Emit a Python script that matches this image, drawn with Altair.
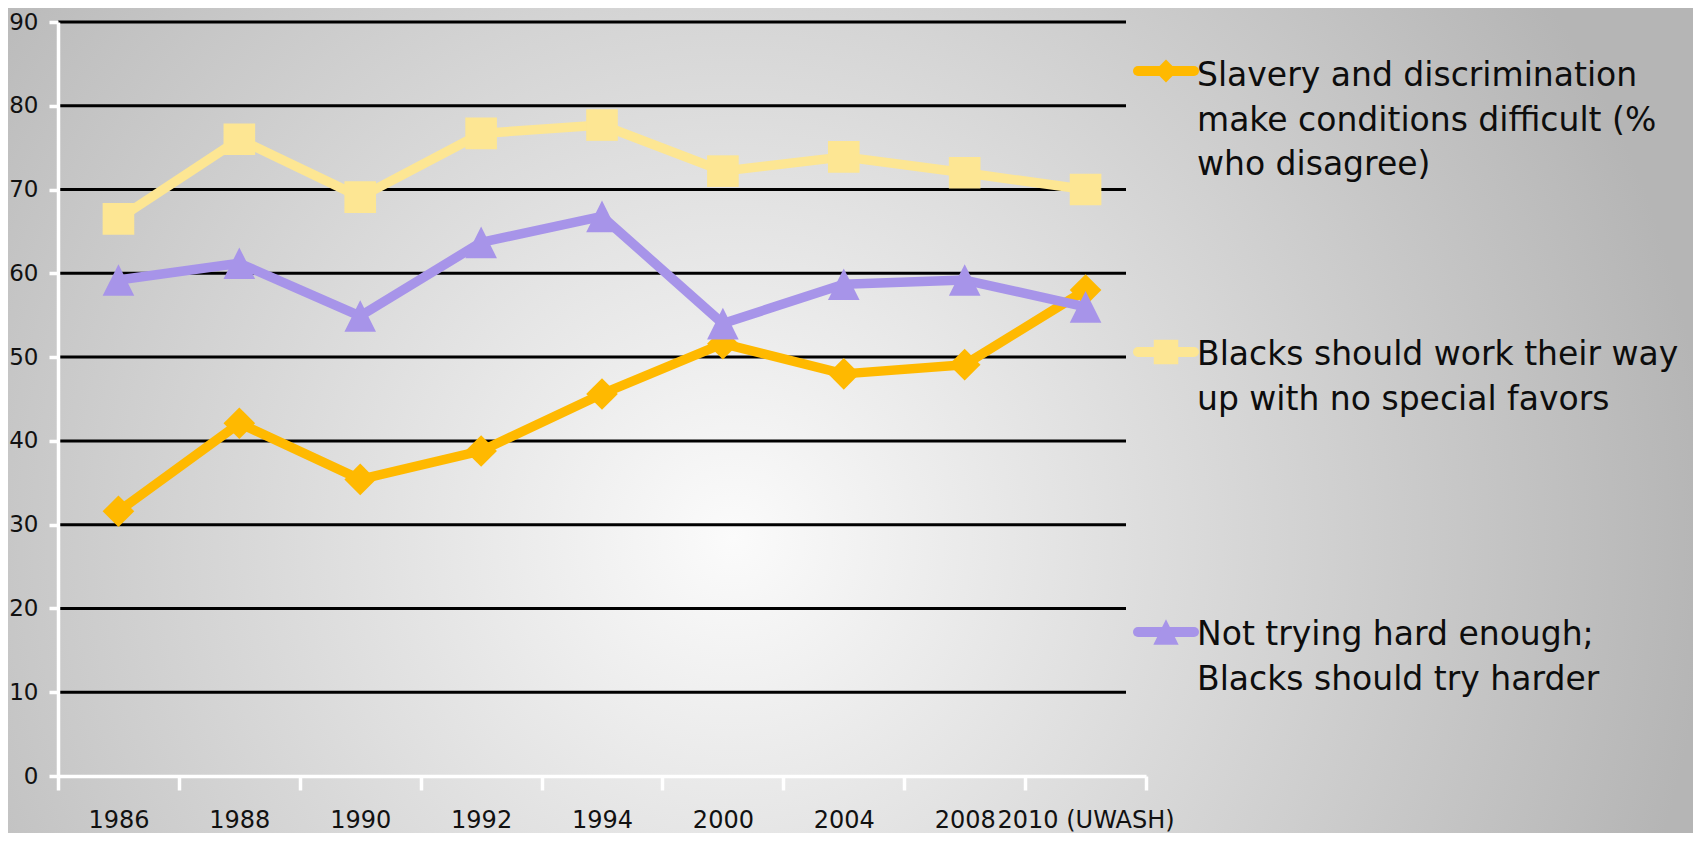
import altair as alt
import pandas as pd

# ---------------- data ----------------
years = ["1986", "1988", "1990", "1992", "1994", "2000", "2004", "2008", "2010 (UWASH)"]
slavery = [31.6, 42.1, 35.4, 38.8, 45.6, 51.6, 48.0, 49.1, 58.0]
work_way = [66.5, 76.0, 69.1, 76.7, 77.7, 72.2, 73.9, 72.0, 70.0]
not_trying = [59.2, 61.2, 54.9, 63.7, 66.8, 54.0, 58.7, 59.2, 56.0]

series_names = [
    "Slavery and discrimination make conditions difficult (% who disagree)",
    "Blacks should work their way up with no special favors",
    "Not trying hard enough; Blacks should try harder",
]
legend_lines = [
    ["Slavery and discrimination", "make conditions difficult (%", "who disagree)"],
    ["Blacks should work their way", "up with no special favors"],
    ["Not trying hard enough;", "Blacks should try harder"],
]
y_ticks = [0, 10, 20, 30, 40, 50, 60, 70, 80, 90]

# ---------------- styles ----------------
colors = ["#FFB900", "#FDE693", "#A794E9"]
shapes = ["diamond", "square", "M0,-1L1,1L-1,1Z"]
FONT = "DejaVu Sans"
W, H = 1088, 754
TOP = 14

rows = []
for name, vals in zip(series_names, [slavery, work_way, not_trying]):
    for yr, v in zip(years, vals):
        rows.append({"series": name, "year": yr, "value": v})
df = pd.DataFrame(rows)

x_enc = alt.X(
    "year:N", sort=years,
    scale=alt.Scale(type="band", domain=years, paddingInner=0, paddingOuter=0),
    axis=alt.Axis(
        title=None, grid=False, labelAngle=0, labelOverlap=False, labelLimit=400,
        domainColor="white", domainWidth=3.5, tickColor="white", tickWidth=3.5,
        tickSize=14, tickBand="extent", labelFont=FONT, labelFontSize=24,
        labelColor="#111111", labelPadding=18, labelBaseline="top", zindex=1,
    ),
)
y_scale = alt.Scale(domain=[0, 90], nice=False, zero=True)
y_axis = alt.Axis(
    title=None, grid=False, values=y_ticks, domainColor="white", domainWidth=3.5,
    tickColor="white", tickWidth=3.5, tickSize=9, labelFont=FONT, labelFontSize=23,
    labelColor="#111111", labelPadding=11, zindex=1,
)
color_scale = alt.Scale(domain=series_names, range=colors)
shape_scale = alt.Scale(domain=series_names, range=shapes)

# background radial gradient
bg = alt.Chart(pd.DataFrame({"k": [0]})).mark_rect(
    fill={
        "gradient": "radial",
        "x1": 0.43, "y1": 0.57, "r1": 0,
        "x2": 0.43, "y2": 0.57, "r2": 0.58,
        "stops": [
            {"offset": 0, "color": "#FBFBFB"},
            {"offset": 1, "color": "#B5B5B5"},
        ],
    }
).encode(x=alt.value(-50), x2=alt.value(1635), y=alt.value(-TOP), y2=alt.value(825 - TOP))

grid = alt.Chart(pd.DataFrame({"v": y_ticks[1:]})).mark_rule(
    color="black", strokeWidth=3
).encode(
    y=alt.Y("v:Q", scale=y_scale, axis=y_axis),
    x=alt.value(0), x2=alt.value(1068),
)

layers = [bg, grid]
for name in series_names:
    base = alt.Chart(df).transform_filter(alt.datum.series == name)
    line = base.mark_line(strokeWidth=9.5, strokeJoin="round").encode(
        x=x_enc,
        y=alt.Y("value:Q", scale=y_scale, axis=y_axis),
        color=alt.Color("series:N", scale=color_scale, legend=None),
    )
    pts = base.mark_point(filled=True, opacity=1, size=1000, strokeWidth=0).encode(
        x=x_enc,
        y=alt.Y("value:Q", scale=y_scale, axis=y_axis),
        color=alt.Color("series:N", scale=color_scale, legend=None),
        shape=alt.Shape("series:N", scale=shape_scale, legend=None),
    )
    layers += [line, pts]

# custom legend (layout positions in pixels, relative to the plot area)
sym_y = [49, 330, 610]
txt_y = [64, 343, 623]
sym_size = [520, 600, 640]
one = pd.DataFrame({"k": [0]})
for i in range(3):
    seg = alt.Chart(one).mark_rule(
        color=colors[i], strokeWidth=10, strokeCap="round"
    ).encode(x=alt.value(1080), x2=alt.value(1136), y=alt.value(sym_y[i]))
    sym = alt.Chart(one).mark_point(
        filled=True, opacity=1, shape=shapes[i], size=sym_size[i], color=colors[i], strokeWidth=0
    ).encode(x=alt.value(1108), y=alt.value(sym_y[i]))
    txt = alt.Chart(one).mark_text(
        align="left", baseline="alphabetic", font=FONT, fontSize=33,
        lineHeight=44.5, color="#0D0D0D",
    ).encode(x=alt.value(1139), y=alt.value(txt_y[i]), text=alt.value(legend_lines[i]))
    layers += [seg, sym, txt]

chart = alt.layer(*layers).properties(
    width=W, height=H,
    autosize=alt.AutoSizeParams(type="none"),
    padding={"left": 50, "top": TOP, "right": 547, "bottom": 825 - TOP - H},
    background="#C4C4C4",
).configure_view(stroke=None)

chart.save("out.html", embed_options={"renderer": "svg", "actions": False})
